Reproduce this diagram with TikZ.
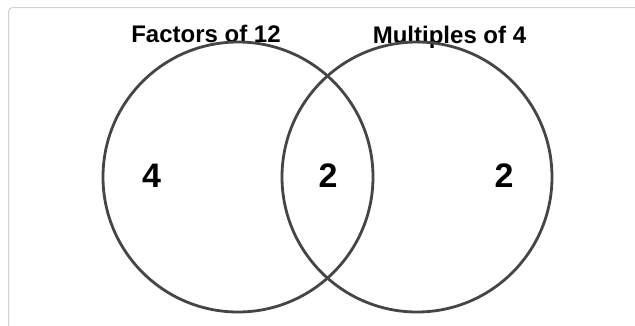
\documentclass[tikz,border=0pt]{standalone}
\usepackage{fontspec}
\setmainfont{Liberation Sans}

\begin{document}
\begin{tikzpicture}[x=1pt,y=-1pt,
  title/.style={font=\fontsize{24}{24}\selectfont\bfseries, anchor=base, inner sep=0pt},
  count/.style={font=\fontsize{34}{34}\selectfont\bfseries, anchor=base, inner sep=0pt},
  ring/.style={draw=black!73, line width=2.8pt}]

\useasboundingbox (0,0) rectangle (635,325);

\coordinate (L) at (238, 177);
\coordinate (R) at (417, 177);

\draw[black!18, line width=1pt, rounded corners=4pt] (8.5,7.5) rectangle (660,340);

\node[title] (factors) at (206, 42.5) {Factors of 12};
\node[title] (multiples) at (449.5, 43) {Multiples of 4};

\node[count] (onlyL) at (151.5, 187) {4};
\node[count] (both) at (328, 187) {2};
\node[count] (onlyR) at (504, 187) {2};

\draw[ring] (L) circle (135);
\draw[ring] (R) circle (135);

\end{tikzpicture}
\end{document}
